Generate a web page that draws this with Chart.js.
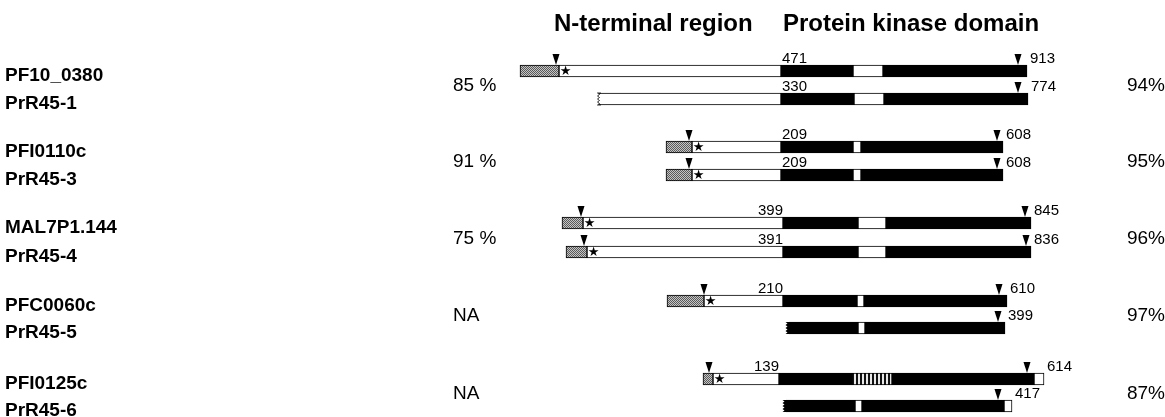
<!DOCTYPE html>
<html><head><meta charset="utf-8">
<script src="https://cdn.jsdelivr.net/npm/chart.js@4/dist/chart.umd.min.js"></script>
<style>html,body{margin:0;padding:0;background:#fff;}#wrap{position:relative;width:1165px;height:417px;}</style>
</head><body><div id="wrap"><canvas id="c"></canvas></div>
<script>
// ---- data ----
const proteins = ['PF10_0380','PrR45-1','PFI0110c','PrR45-3','MAL7P1.144','PrR45-4','PFC0060c','PrR45-5','PFI0125c','PrR45-6'];
const identityLeft  = ['85 %','91 %','75 %','NA','NA'];
const identityRight = ['94%','95%','96%','97%','87%'];
const headers = ['N-terminal region','Protein kinase domain'];
// segment boundaries on the schematic axis
const greyStart   = [520, null, 666, 666, 562, 566, 667, null, 703, null];
const nTermStart  = [559, 597, 692, 692, 583, 587, 704, null, 713, null];
const kinaseStart = [781, 781, 781, 781, 783, 783, 783, 785, 779, 782];
const insertStart = [853, 854, 853, 853, 858, 858, 857, 858, 852, 855];
const insertEnd   = [883, 884, 861, 861, 886, 886, 864, 865, 892, 862];
const kinaseEnd   = [1027,1028,1003,1003,1031,1031,1007,1005,1034,1004];
const cTermEnd    = [null,null,null,null,null,null,null,null,1044,1012];
const insertHatched = [false,false,false,false,false,false,false,false,true,false];
const truncatedStart = [false,true,false,false,false,false,false,true,false,true];
const kinaseStartLabel = ['471','330','209','209','399','391','210','','139',''];
const endLabel = ['913','774','608','608','845','836','610','399','614','417'];
const nMarker = [556,null,689,689,581,584,704,null,709,null];
const cMarker = [1018,1018,997,997,1025,1026,999,998,1027,998];
const startLabelRightAligned = [false,false,false,false,true,true,true,false,true,false];

// ---- layout ----
const ROW_Y = [71, 99, 147, 175, 223, 252, 301, 328, 379, 406];
const BAR = 12;
const FONT = '"Liberation Sans", Arial, Helvetica, sans-serif';

function makePattern(w,h,draw){
  const c=document.createElement('canvas'); c.width=w; c.height=h;
  const g=c.getContext('2d'); draw(g); return g.createPattern(c,'repeat');
}
const checker = makePattern(2,2,g=>{g.fillStyle='#c4c4c4';g.fillRect(0,0,2,2);g.fillStyle='#5a5a5a';g.fillRect(0,0,1,1);g.fillRect(1,1,1,1);});
const hatch = makePattern(4,2,g=>{g.fillStyle='#e8e8e8';g.fillRect(0,0,4,2);g.fillStyle='#111';g.fillRect(0,0,2,2);});

function seg(a,b){
  const out=[];
  proteins.forEach((p,i)=>{ if(a[i]!=null && b[i]!=null) out.push({x:[a[i],b[i]], y:ROW_Y[i], row:i}); });
  return out;
}
const base = {grouped:false, barThickness:BAR, borderWidth:1, borderColor:'#000', borderSkipped:false};
const datasets = [
  {...base, label:'signal', data:seg(greyStart,nTermStart), backgroundColor:checker},
  {...base, label:'N-term', data:seg(nTermStart,kinaseStart), backgroundColor:'#fff'},
  {...base, label:'kinase1', data:seg(kinaseStart,insertStart), backgroundColor:'#000'},
  {...base, label:'insert', data:seg(insertStart,insertEnd), backgroundColor:c=>(c.raw && insertHatched[c.raw.row])?hatch:'#fff'},
  {...base, label:'kinase2', data:seg(insertEnd,kinaseEnd), backgroundColor:'#000'},
  {...base, label:'C-term', data:seg(kinaseEnd,cTermEnd), backgroundColor:'#fff'}
];

const annot = {
  id:'annot',
  afterDatasetsDraw(chart){
    const {ctx, scales:{x,y}} = chart;
    ctx.save();
    proteins.forEach((name,i)=>{
      const yc = y.getPixelForValue(ROW_Y[i]);
      const top = yc - BAR/2, bot = yc + BAR/2;
      // truncated (ragged) start
      if (truncatedStart[i]) {
        const s = nTermStart[i]!=null ? nTermStart[i] : kinaseStart[i];
        const x0 = x.getPixelForValue(s);
        const black = nTermStart[i]==null;
        ctx.fillStyle='#fff'; ctx.fillRect(x0-1, top-1, 5, BAR+2);
        ctx.beginPath();
        ctx.moveTo(x0+4, top);
        let k=0;
        for (let yy=top; yy<=bot; yy+=1.5, k++) ctx.lineTo(x0 + (k%2? 2.5:0.5), yy);
        ctx.lineTo(x0+4, bot);
        if (black) { ctx.closePath(); ctx.fillStyle='#000'; ctx.fill(); }
        else {
          ctx.strokeStyle='#000'; ctx.lineWidth=0.8; ctx.stroke();
          ctx.beginPath(); ctx.moveTo(x0+2, top+0.5); ctx.lineTo(x0+4, top+0.5);
          ctx.moveTo(x0+2, bot-0.5); ctx.lineTo(x0+4, bot-0.5); ctx.stroke();
        }
      }
      // markers (triangles)
      ctx.fillStyle='#000';
      [nMarker[i], cMarker[i]].forEach(m=>{
        if (m==null) return;
        const mx = x.getPixelForValue(m);
        ctx.beginPath(); ctx.moveTo(mx-3.5, top-11); ctx.lineTo(mx+3.5, top-11); ctx.lineTo(mx, top); ctx.closePath(); ctx.fill();
      });
      // star after signal segment
      if (greyStart[i]!=null) {
        ctx.font = '13px "DejaVu Sans", sans-serif';
        ctx.textAlign='center'; ctx.textBaseline='middle';
        ctx.fillText('\u2605', x.getPixelForValue(nTermStart[i])+6.5, yc+0.5);
      }
      // numbers
      ctx.font = '15px '+FONT; ctx.textBaseline='middle';
      if (kinaseStartLabel[i]) {
        ctx.textAlign = startLabelRightAligned[i] ? 'right':'left';
        ctx.fillText(kinaseStartLabel[i], x.getPixelForValue(kinaseStart[i]) + (startLabelRightAligned[i]?0:1), yc-12);
      }
      const endX = cTermEnd[i]!=null ? cTermEnd[i] : kinaseEnd[i];
      ctx.textAlign='left';
      ctx.fillText(endLabel[i], x.getPixelForValue(endX)+3, yc-12);
      // protein name
      ctx.font = 'bold 19px '+FONT;
      ctx.fillText(name, 5, yc+5);
    });
    // identity values
    ctx.font = '19px '+FONT; ctx.textBaseline='middle';
    identityLeft.forEach((t,k)=>{
      const yc = (y.getPixelForValue(ROW_Y[2*k]) + y.getPixelForValue(ROW_Y[2*k+1]))/2 + 1;
      ctx.textAlign='left'; ctx.fillText(t, 453, yc);
      ctx.textAlign='right'; ctx.fillText(identityRight[k], 1165, yc);
    });
    // headers
    ctx.font = 'bold 24px '+FONT; ctx.textAlign='left'; ctx.textBaseline='middle';
    ctx.fillText(headers[0], 554, 24);
    ctx.fillText(headers[1], 783, 24);
    ctx.restore();
  }
};

new Chart(document.getElementById('c'), {
  type:'bar',
  data:{datasets},
  options:{
    indexAxis:'y', responsive:true, maintainAspectRatio:false, animation:false,
    layout:{padding:0},
    plugins:{legend:{display:false}, tooltip:{enabled:false}},
    events:[],
    scales:{
      x:{type:'linear', min:0, max:1165, display:false, offset:false},
      y:{type:'linear', min:0, max:417, reverse:true, display:false, offset:false}
    }
  },
  plugins:[annot]
});
</script></body></html>
